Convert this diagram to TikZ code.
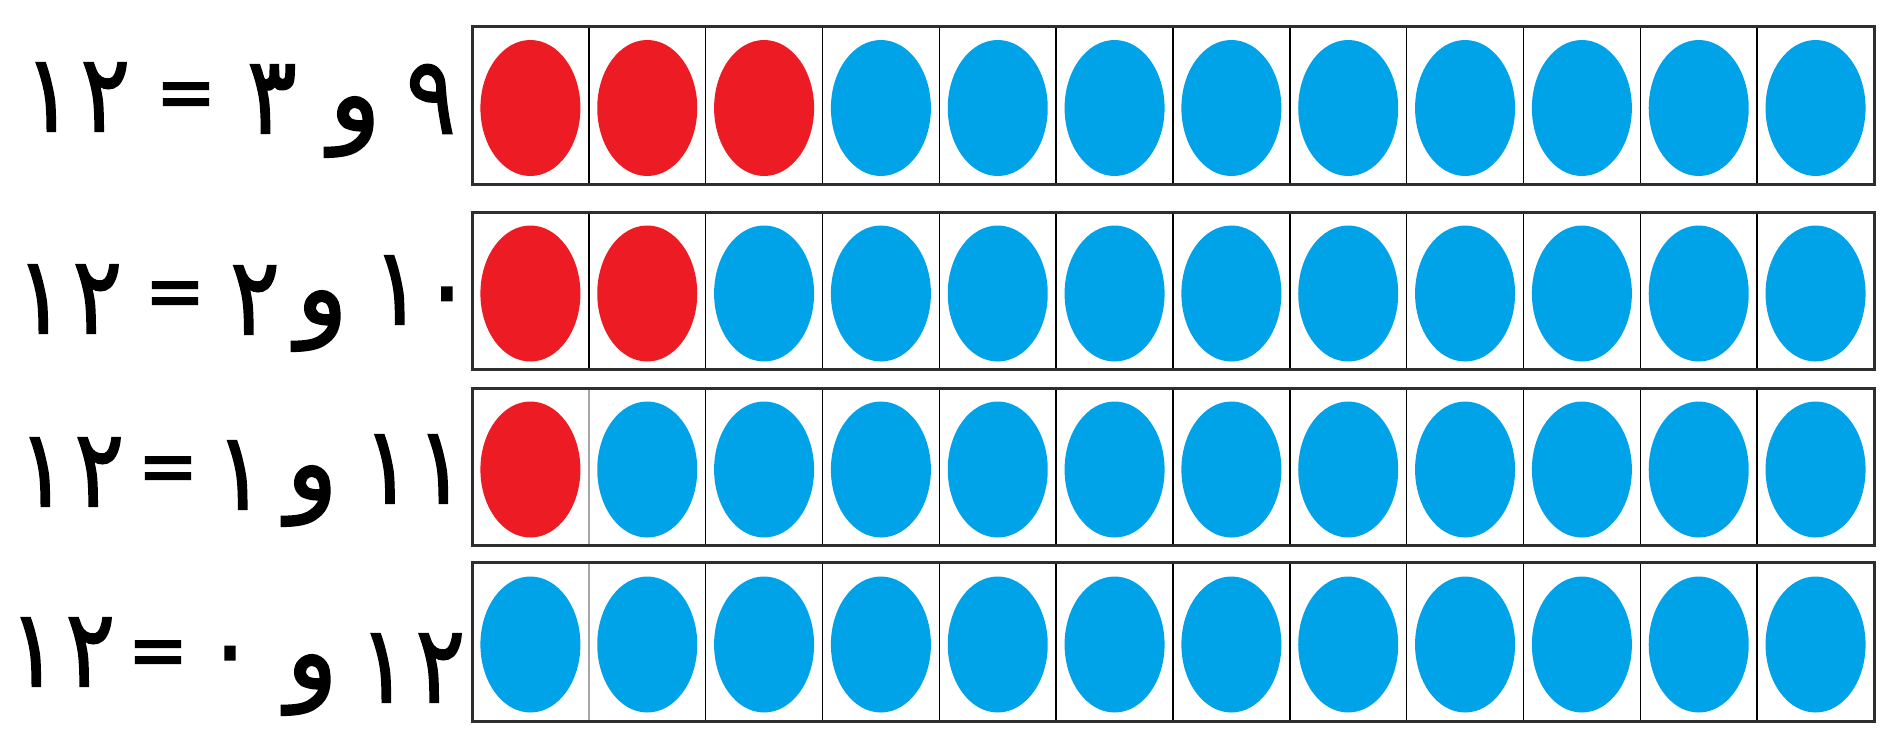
\documentclass[tikz,border=0pt]{standalone}
\usepackage{fontspec}
\newfontfamily\arabicfont[Script=Arabic, FakeBold=1.6]{DejaVu Sans}
\TeXXeTstate=1
\definecolor{dotred}{HTML}{ED1C24}
\definecolor{dotblue}{HTML}{00A2E8}
\definecolor{framegray}{HTML}{2E2E2E}
\newcommand{\arnum}[1]{\scalebox{0.86}[1]{\arabicfont\fontsize{108}{120}\selectfont #1}}
\newcommand{\arwaw}[1]{{\arabicfont\fontsize{108}{120}\selectfont #1}}
\newcommand{\areq}[1]{\scalebox{0.9}[1]{\arabicfont\fontsize{80}{90}\selectfont #1}}
\begin{document}
\begin{tikzpicture}[x=1pt,y=-1pt,
  num/.style={inner sep=0pt},
  outerframe/.style={draw=framegray, line width=3pt},
  divider/.style={draw=black, line width=1.6pt},
  lightdivider/.style={draw=black!35, line width=1.6pt}]
\useasboundingbox (0,0) rectangle (1882,731);
\fill[white] (0,0) rectangle (1882,731);
% rows: index / top / bottom / number of red dots
\foreach \r/\tp/\bt/\nred in {1/26/184/3, 2/212/369/2, 3/388/545/1, 4/562/721/0} {
  \pgfmathsetmacro{\cy}{(\tp+\bt)/2+3}
  \foreach \i in {1,...,12} {
    \pgfmathsetmacro{\cx}{472+(\i-0.5)*116.83}
    \ifnum\i>\nred
      \fill[dotblue] (\cx,\cy) ellipse [x radius=50, y radius=68];
    \else
      \fill[dotred] (\cx,\cy) ellipse [x radius=50, y radius=68];
    \fi
  }
  \foreach \i in {1,...,11} {
    \pgfmathsetmacro{\dx}{472+\i*116.83}
    \ifnum\i=1
      \ifnum\r>2
        \draw[lightdivider] (\dx,\tp) -- (\dx,\bt);
      \else
        \draw[divider] (\dx,\tp) -- (\dx,\bt);
      \fi
    \else
      \ifnum\i=7
        \draw[divider, line width=2.6pt] (\dx,\tp) -- (\dx,\bt);
      \else
        \draw[divider] (\dx,\tp) -- (\dx,\bt);
      \fi
    \fi
  }
  \draw[outerframe] (472,\tp) rectangle (1874,\bt);
}
% row 1
\node[num] (r1a) at (77,97) {\arnum{١\kern8pt٢}};
\node[num] (r1b) at (186,101) {\areq{=}};
\node[num] (r1c) at (272,99) {\arnum{٣}};
\node[num] (r1d) at (355,127) {\arwaw{و}};
\node[num] (r1e) at (431,99) {\arnum{٩}};
% row 2
\node[num] (r2a) at (69,299) {\arnum{١\kern8pt٢}};
\node[num] (r2b) at (175,300) {\areq{=}};
\node[num] (r2c) at (255,300) {\arnum{٢}};
\node[num] (r2d) at (322,321) {\arwaw{و}};
\node[num] (r2e) at (422,290) {\arnum{١٠}};
% row 3
\node[num] (r3a) at (71,472) {\arnum{١\kern8pt٢}};
\node[num] (r3b) at (168,475) {\areq{=}};
\node[num] (r3c) at (240,475) {\arnum{١}};
\node[num] (r3d) at (312,496) {\arwaw{و}};
\node[num] (r3e) at (414,469) {\arnum{١\kern4pt١}};
% row 4
\node[num] (r4a) at (62,652) {\arnum{١\kern8pt٢}};
\node[num] (r4b) at (158,659) {\areq{=}};
\node[num] (r4c) at (230,665) {\arnum{٠}};
\node[num] (r4d) at (312,685) {\arwaw{و}};
\node[num] (r4e) at (412,668) {\arnum{١\kern8pt٢}};
\end{tikzpicture}
\end{document}
